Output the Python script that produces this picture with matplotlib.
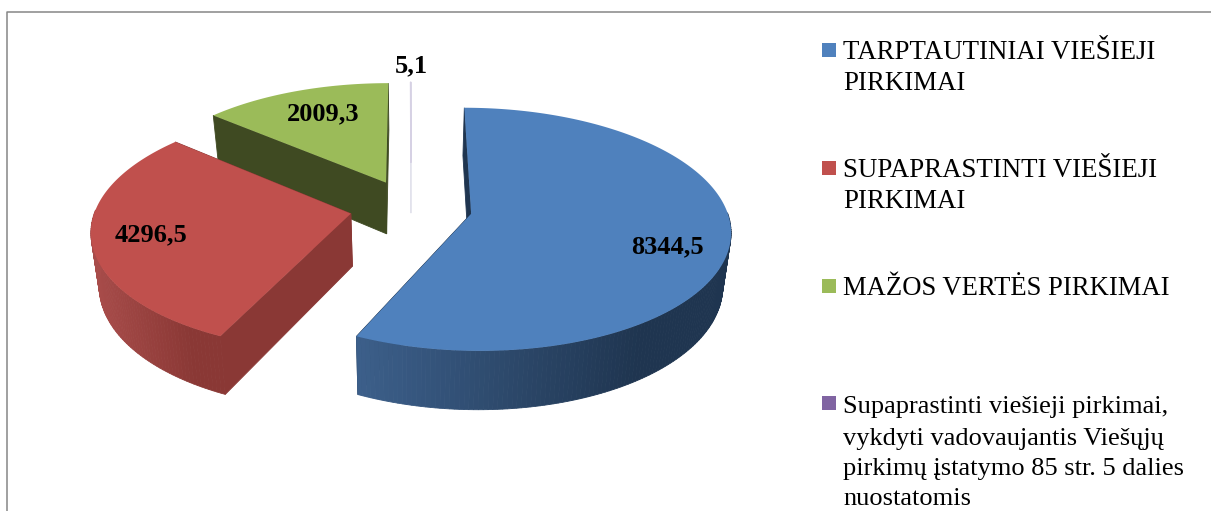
# -*- coding: utf-8 -*-
# 3D exploded pie drawn by hand, matplotlib has no perspective pie
import numpy as np
import matplotlib
matplotlib.use("Agg")
import matplotlib.pyplot as plt
from matplotlib.patches import Polygon, Rectangle

plt.rcParams['font.family'] = ['Liberation Serif', 'DejaVu Serif']

# Data
values = [8344.5, 4296.5, 2009.3, 5.1]
value_labels = ['8344,5', '4296,5', '2009,3', '5,1']
legend_lines = [
    ['TARPTAUTINIAI VIEŠIEJI', 'PIRKIMAI'],
    ['SUPAPRASTINTI VIEŠIEJI', 'PIRKIMAI'],
    ['MAŽOS VERTĖS PIRKIMAI'],
    ['Supaprastinti viešieji pirkimai,', 'vykdyti vadovaujantis Viešųjų',
     'pirkimų įstatymo 85 str. 5 dalies', 'nuostatomis'],
]

# Styles
top_colors = ['#4F81BD', '#C0504D', '#9BBB59', '#8064A2']
rim_left = ['#3C5F8A', '#A84C4A', '#3F4A22', '#DAD6E6']
rim_right = ['#1F3550', '#8A3835', '#3F4A22', '#DAD6E6']
face_colors = ['#1F3550', '#8A3835', '#3F4A22', '#E2E2EC']
explode = [0.24, 0.24, 0.24, 0.40]
radius = [1.0, 1.0, 1.0, 0.83]
label_pos = [(667, 253), (151, 241), (323, 120), (411, 72)]
legend_x = 843
legend_base = [[59, 90], [177, 208], [295], [413, 445, 475, 505]]
legend_box = [43, 161, 279, 396]
legend_size = [19.4, 19.4, 19.15, 19]

# Projection of the pie plane to pixels
CX, CY, A, B, K = 411.0, 207.6, 255.0, 118.0, 0.127


def project(x, y):
    w = 1 + K * y
    return CX + A * x / w, CY - B * y / w


def lower(px, py):
    # same point on the bottom plane of the pie
    return CX + 0.974 * (px - CX), 260 + 1.045 * (py - CY)


def quad(ax, p1, p2, color, z):
    q1, q2 = lower(*p1), lower(*p2)
    ax.add_patch(Polygon([p1, p2, q2, q1], closed=True, fc=color, ec=color,
                         lw=0.6, zorder=z))


fig = plt.figure(figsize=(12.11, 5.11), dpi=100)
ax = fig.add_axes([0, 0, 1, 1])
ax.set_xlim(0, 1211)
ax.set_ylim(511, 0)
ax.axis('off')

# frame, the right side is cut off in the picture
ax.plot([6.5, 6.5, 1211], [511, 12.5, 12.5], color='#868686', lw=1.1)

total = sum(values)
ends = 90 - np.cumsum(values) / total * 360
starts = np.r_[90, ends[:-1]]

# back slices first so the front ones cover them
for i in [3, 2, 1, 0]:
    t0, t1 = np.radians(starts[i]), np.radians(ends[i])
    mid = (t0 + t1) / 2
    ox, oy = explode[i] * np.cos(mid), explode[i] * np.sin(mid)
    t = np.linspace(t0, t1, max(int(abs(t1 - t0) * 60), 2))
    rim = [project(ox + radius[i] * np.cos(a), oy + radius[i] * np.sin(a)) for a in t]
    apex = project(ox, oy)
    z = 2 + (3 - i) * 3

    quad(ax, apex, rim[0], face_colors[i], z)
    quad(ax, apex, rim[-1], face_colors[i], z)

    # rim shading goes with the pixel x of the segment
    c0 = np.array(matplotlib.colors.to_rgb(rim_left[i]))
    c1 = np.array(matplotlib.colors.to_rgb(rim_right[i]))
    xs = np.array([p[0] for p in rim])
    span = 0.75 * (xs.max() - xs.min()) or 1
    for a, p1, p2 in zip(t[:-1], rim[:-1], rim[1:]):
        # back part of the rim is hidden by the top
        if np.sin(a) > 0.02:
            continue
        f = min((min(p1[0], p2[0]) - xs.min()) / span, 1)
        quad(ax, p1, p2, tuple(c0 + (c1 - c0) * f), z + 1)

    top = [apex] + rim
    ec = 'none' if i < 3 else '#D6D1E4'
    ax.add_patch(Polygon(top, closed=True, fc=top_colors[i] if i < 3 else '#D6D1E4',
                         ec=ec, lw=1.0, zorder=z + 2))

for txt, (x, y) in zip(value_labels, label_pos):
    ax.text(x, y, txt, fontsize=19, fontweight='bold', ha='center', va='baseline',
            color='black', zorder=30)

# legend
for i, lines in enumerate(legend_lines):
    ax.add_patch(Rectangle((822, legend_box[i]), 14, 14, fc=top_colors[i], ec='none', zorder=30))
    for line, y in zip(lines, legend_base[i]):
        ax.text(legend_x, y, line, fontsize=legend_size[i], ha='left', va='baseline',
                color='black', zorder=30)

fig.savefig('out.png', dpi=100, facecolor='white')
